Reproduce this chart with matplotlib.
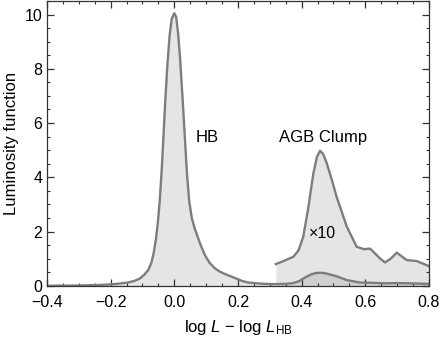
import matplotlib
matplotlib.use("Agg")
import matplotlib.pyplot as plt
import numpy as np

plt.rcParams['font.family'] = ['Liberation Sans', 'DejaVu Sans']
plt.rcParams['mathtext.fontset'] = 'custom'
plt.rcParams['mathtext.rm'] = 'Liberation Sans'
plt.rcParams['mathtext.it'] = 'Liberation Sans:italic'

# luminosity function
x_lf = [-0.40, -0.30, -0.233, -0.19, -0.15, -0.125, -0.108, -0.095, -0.082, -0.072,
        -0.065, -0.058, -0.052, -0.046, -0.040, -0.035, -0.029, -0.022, -0.015, -0.008,
        0.0, 0.006, 0.012, 0.018, 0.026, 0.033, 0.040, 0.047, 0.055, 0.063,
        0.072, 0.081, 0.096, 0.112, 0.127, 0.143, 0.160, 0.175, 0.200, 0.215,
        0.232, 0.250, 0.269, 0.311, 0.350, 0.374, 0.392, 0.410, 0.430, 0.445,
        0.458, 0.470, 0.485, 0.510, 0.542, 0.583, 0.620, 0.660, 0.700, 0.740,
        0.800]
y_lf = [0.0, 0.01, 0.03, 0.06, 0.11, 0.18, 0.27, 0.40, 0.58, 0.85,
        1.2, 1.7, 2.3, 3.1, 4.2, 5.3, 6.7, 8.1, 9.2, 9.85,
        10.05, 9.9, 9.3, 8.4, 6.9, 5.5, 4.1, 3.1, 2.5, 2.15,
        1.85, 1.56, 1.13, 0.83, 0.65, 0.52, 0.43, 0.36, 0.24, 0.17,
        0.12, 0.10, 0.08, 0.06, 0.07, 0.10, 0.17, 0.30, 0.42, 0.47,
        0.48, 0.47, 0.43, 0.35, 0.21, 0.12, 0.11, 0.09, 0.10, 0.09,
        0.07]

# AGB clump region magnified x10
x_agb = [0.319, 0.345, 0.374, 0.390, 0.405, 0.420, 0.437, 0.448, 0.458, 0.468,
         0.479, 0.495, 0.510, 0.542, 0.573, 0.595, 0.615, 0.630, 0.646, 0.662,
         0.680, 0.699, 0.715, 0.730, 0.762, 0.793, 0.800]
y_agb = [0.80, 0.92, 1.07, 1.30, 1.80, 2.80, 4.15, 4.75, 4.98, 4.85,
         4.52, 3.90, 3.28, 2.18, 1.44, 1.35, 1.37, 1.20, 1.01, 0.86,
         1.00, 1.22, 1.08, 0.95, 0.91, 0.76, 0.72]

xticks = [-0.4, -0.2, 0.0, 0.2, 0.4, 0.6, 0.8]
yticks = [0, 2, 4, 6, 8, 10]

fig = plt.figure(figsize=(4.41, 3.37), dpi=100)
ax = fig.add_axes([0.1066, 0.152, 0.866, 0.845])

line_c = '#7d7d7d'
ax.fill_between(x_lf, y_lf, 0, color='gray', alpha=0.2, lw=0)
ax.fill_between(x_agb, y_agb, 0, color='gray', alpha=0.2, lw=0)
ax.plot(x_lf, y_lf, color=line_c, lw=1.7, solid_joinstyle='round')
ax.plot(x_agb, y_agb, color=line_c, lw=1.7, solid_joinstyle='round')

ax.text(0.103, 5.45, 'HB', fontsize=12, ha='center', va='center')
ax.text(0.467, 5.45, 'AGB Clump', fontsize=12, ha='center', va='center')
ax.text(0.467, 1.94, '\u00d710', fontsize=11.5, ha='center', va='center')

ax.set_xlim(-0.4, 0.8)
ax.set_ylim(0, 10.5)
ax.set_xticks(xticks)
ax.set_yticks(yticks)
ax.set_xticklabels(['\u22120.4', '\u22120.2', '0.0', '0.2', '0.4', '0.6', '0.8'])
ax.set_xticks(np.arange(-0.4, 0.801, 0.05), minor=True)
ax.set_yticks(np.arange(0, 10.51, 0.5), minor=True)
ax.tick_params(which='both', direction='in', top=True, right=True,
               labelsize=11.5, color='#333333')
ax.tick_params(which='major', length=5, width=0.9)
ax.tick_params(which='minor', length=2.5, width=0.8)
ax.tick_params(axis='x', pad=6.5)
for s in ax.spines.values():
    s.set_color('#333333')
    s.set_linewidth(0.9)

ax.set_xlabel(r'log $L$ $-$ log $L_{\rm HB}$', fontsize=12, labelpad=6)
ax.set_ylabel('Luminosity function', fontsize=12, labelpad=4)

fig.savefig('out.png', dpi=100)
